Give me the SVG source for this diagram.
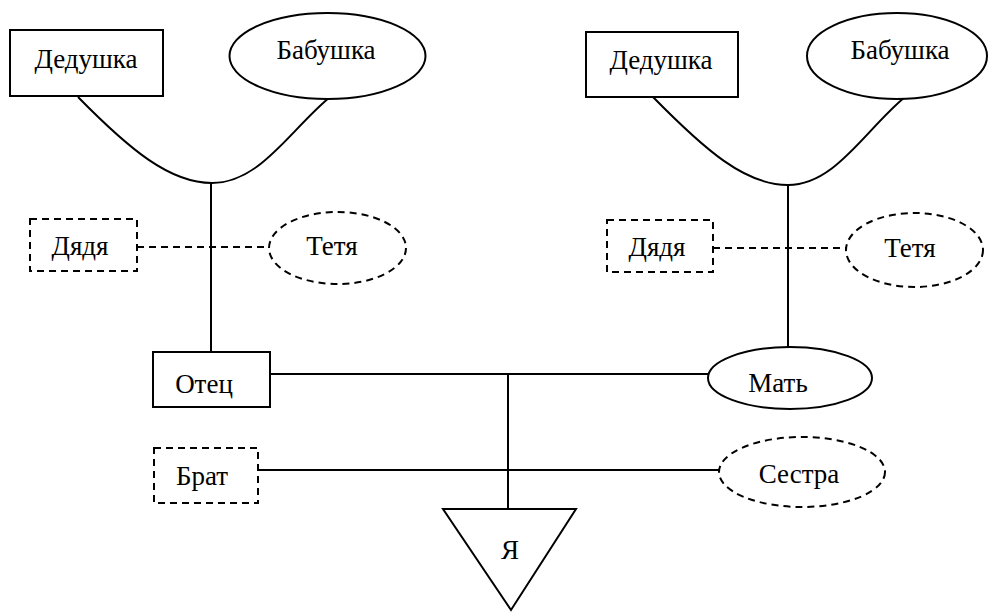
<svg xmlns="http://www.w3.org/2000/svg" width="990" height="612" viewBox="0 0 990 612" font-family="Liberation Serif, Times New Roman, serif">
<style>
.s{fill:#fff;stroke:#000;stroke-width:2}
.d{fill:#fff;stroke:#000;stroke-width:2;stroke-dasharray:7 5}
.l{fill:none;stroke:#000;stroke-width:2}
.ld{fill:none;stroke:#000;stroke-width:2;stroke-dasharray:7 5}
.t{font-size:27px;fill:#000;text-anchor:middle}
</style>
<rect width="990" height="612" fill="#fff"/>
<g id="connectors">
<path class="l" d="M78,97 C130,150 170,183 212,183 C260,183 290,130 330,97"/>
<line class="l" x1="211" y1="183" x2="211" y2="352"/>
<path class="l" d="M653,97 C705,150 745,185 788,185 C835,185 865,130 905,97"/>
<line class="l" x1="788" y1="185" x2="788" y2="347"/>
<line class="ld" x1="137" y1="247" x2="270" y2="247"/>
<line class="ld" x1="713" y1="248" x2="846" y2="248"/>
<line class="l" x1="270" y1="374" x2="708" y2="374"/>
<line class="l" x1="258" y1="470" x2="719" y2="470"/>
<line class="l" x1="508" y1="374" x2="508" y2="509"/>
</g>
<g id="ded1"><rect class="s" x="10" y="30" width="153" height="66"/><text class="t" x="86" y="68">Дедушка</text></g>
<g id="bab1"><ellipse class="s" cx="327.5" cy="56" rx="98" ry="43"/><text class="t" x="326" y="59">Бабушка</text></g>
<g id="ded2"><rect class="s" x="586" y="32" width="152" height="65"/><text class="t" x="661" y="69">Дедушка</text></g>
<g id="bab2"><ellipse class="s" cx="897" cy="56" rx="90" ry="43"/><text class="t" x="900" y="59">Бабушка</text></g>
<g id="dyadya1"><rect class="d" x="30" y="219" width="107" height="52"/><text class="t" x="80" y="255">Дядя</text></g>
<g id="tetya1"><ellipse class="d" cx="337.5" cy="248" rx="68.5" ry="36"/><text class="t" x="332" y="255">Тетя</text></g>
<g id="dyadya2"><rect class="d" x="607" y="220" width="106" height="52"/><text class="t" x="657" y="256">Дядя</text></g>
<g id="tetya2"><ellipse class="d" cx="914.5" cy="250" rx="68.5" ry="37"/><text class="t" x="910" y="257">Тетя</text></g>
<g id="otets"><rect class="s" x="153" y="352" width="117" height="55"/><text class="t" x="204" y="393">Отец</text></g>
<g id="mat"><ellipse class="s" cx="790" cy="378" rx="82" ry="31"/><text class="t" x="778" y="392">Мать</text></g>
<g id="brat"><rect class="d" x="154" y="448" width="104" height="55"/><text class="t" x="202" y="485">Брат</text></g>
<g id="sestra"><ellipse class="d" cx="802" cy="472" rx="83" ry="35"/><text class="t" x="799" y="483">Сестра</text></g>
<g id="ya"><polygon class="s" points="443,509 576,509 511,610"/><text class="t" x="510" y="559">Я</text></g>
</svg>
